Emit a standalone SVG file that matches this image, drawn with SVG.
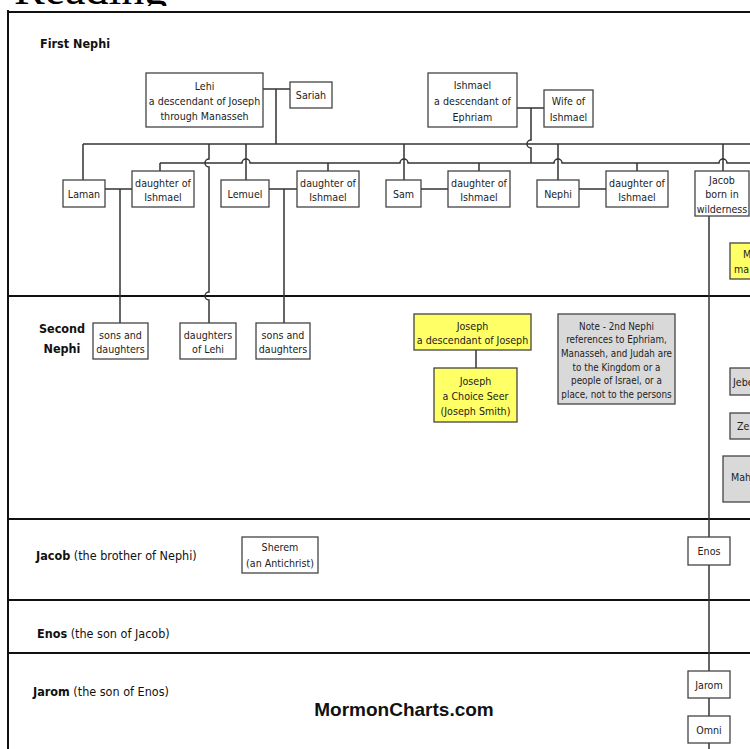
<svg xmlns="http://www.w3.org/2000/svg" width="750" height="749" viewBox="0 0 750 749">
<defs>
<clipPath id="topclip"><rect x="0" y="0" width="750" height="6"/></clipPath>
</defs>
<style>
.t{font-family:"DejaVu Sans Condensed","Liberation Sans",sans-serif;font-size:10.6px;fill:#222;text-anchor:middle}
.n{font-size:9.8px}
.lbl{font-family:"DejaVu Sans Condensed","Liberation Sans",sans-serif;font-size:12.5px;fill:#111}
.b{font-weight:bold}
.s{fill:#fff;stroke:#444;stroke-width:1.3}
.y{fill:#ffff66;stroke:#444;stroke-width:1.3}
.g{fill:#d9d9d9;stroke:#444;stroke-width:1.3}
.c{fill:none;stroke:#333;stroke-width:1.5}
.d{fill:none;stroke:#111;stroke-width:2}
.st{font-family:"DejaVu Sans Condensed","Liberation Sans",sans-serif;font-size:10.6px;fill:#222}
</style>
<rect width="750" height="749" fill="#fff"/>
<text x="14" y="4" clip-path="url(#topclip)" font-family="Liberation Serif,serif" font-size="46" fill="#000">Reading</text>
<g id="frame">
<path class="d" d="M8,12 H750 M8,10 V749 M8,296 H750 M8,519 H750 M8,600 H750 M8,653 H750"/>
</g>
<g id="labels">
<text class="lbl b" x="40" y="48">First Nephi</text>
<text class="lbl b" x="62" y="333" text-anchor="middle">Second</text>
<text class="lbl b" x="62" y="353" text-anchor="middle">Nephi</text>
<text class="lbl" x="36" y="560"><tspan class="b">Jacob</tspan> (the brother of Nephi)</text>
<text class="lbl" x="37" y="638"><tspan class="b">Enos</tspan> (the son of Jacob)</text>
<text class="lbl" x="33" y="696"><tspan class="b">Jarom</tspan> (the son of Enos)</text>
<text x="404" y="716" font-family="Liberation Sans,Arial,sans-serif" font-weight="bold" font-size="19" text-anchor="middle" fill="#111">MormonCharts.com</text>
</g>
<g id="connectors">
<path class="c" d="M263,89 H290 M276,89 V144"/>
<path class="c" d="M83,144 H750"/>
<path class="c" d="M83,144 V180 M209,144 V159 a4,4 0 0 0 0,8 V292 a4,4 0 0 0 0,8 V323 M246,144 V180 M404,144 V180 M558,144 V180 M723,144 V171"/>
<path class="c" d="M517,108 H544 M531,108 V140 a4,4 0 0 0 0,8 V163"/>
<path class="c" d="M160,163 H242 a4,4 0 0 1 8,0 H400 a4,4 0 0 1 8,0 H554 a4,4 0 0 1 8,0 H719 a4,4 0 0 1 8,0 H750"/>
<path class="c" d="M160,163 V171 M328,163 V171 M479,163 V171 M637,163 V171"/>
<path class="c" d="M105,189 H132 M120,189 V323 M269,189 H297 M284,189 V323 M421,189 H448 M579,189 H606"/>
<path class="c" d="M476,350 V368"/>
<path class="c" d="M709,216 V749"/>
</g>
<g id="lehi"><rect class="s" x="146" y="73" width="117" height="54"/><text class="t" x="204.5" y="90">Lehi</text><text class="t" x="204.5" y="105">a descendant of Joseph</text><text class="t" x="204.5" y="120">through Manasseh</text></g>
<g id="sariah"><rect class="s" x="290" y="82" width="42" height="26"/><text class="t" x="311" y="99">Sariah</text></g>
<g id="ishmael"><rect class="s" x="428" y="73" width="89" height="54"/><text class="t" x="472.5" y="89">Ishmael</text><text class="t" x="472.5" y="105">a descendant of</text><text class="t" x="472.5" y="121">Ephriam</text></g>
<g id="wife"><rect class="s" x="544" y="90" width="49" height="37"/><text class="t" x="568.5" y="105">Wife of</text><text class="t" x="568.5" y="121">Ishmael</text></g>
<g id="laman"><rect class="s" x="63" y="180" width="42" height="27"/><text class="t" x="84" y="198">Laman</text></g>
<g id="d1"><rect class="s" x="132" y="171" width="62" height="36"/><text class="t" x="163" y="187">daughter of</text><text class="t" x="163" y="201">Ishmael</text></g>
<g id="lemuel"><rect class="s" x="221" y="180" width="48" height="27"/><text class="t" x="245" y="198">Lemuel</text></g>
<g id="d2"><rect class="s" x="297" y="171" width="62" height="36"/><text class="t" x="328" y="187">daughter of</text><text class="t" x="328" y="201">Ishmael</text></g>
<g id="sam"><rect class="s" x="386" y="180" width="35" height="27"/><text class="t" x="403.5" y="198">Sam</text></g>
<g id="d3"><rect class="s" x="448" y="171" width="62" height="36"/><text class="t" x="479" y="187">daughter of</text><text class="t" x="479" y="201">Ishmael</text></g>
<g id="nephi"><rect class="s" x="537" y="180" width="42" height="27"/><text class="t" x="558" y="198">Nephi</text></g>
<g id="d4"><rect class="s" x="606" y="171" width="62" height="36"/><text class="t" x="637" y="187">daughter of</text><text class="t" x="637" y="201">Ishmael</text></g>
<g id="jacob"><rect class="s" x="695" y="171" width="54" height="45"/><text class="t" x="722" y="184">Jacob</text><text class="t" x="722" y="198">born in</text><text class="t" x="722" y="213">wilderness</text></g>
<g id="m"><rect class="y" x="730" y="243" width="30" height="36"/><text class="st" x="743" y="258">M</text><text class="st" x="734" y="273">ma</text></g>
<g id="sd1"><rect class="s" x="93" y="323" width="55" height="36"/><text class="t" x="120.5" y="339">sons and</text><text class="t" x="120.5" y="353">daughters</text></g>
<g id="dl"><rect class="s" x="180" y="323" width="56" height="36"/><text class="t" x="208" y="339">daughters</text><text class="t" x="208" y="353">of Lehi</text></g>
<g id="sd2"><rect class="s" x="256" y="323" width="54" height="36"/><text class="t" x="283" y="339">sons and</text><text class="t" x="283" y="353">daughters</text></g>
<g id="joseph"><rect class="y" x="414" y="314" width="117" height="36"/><text class="t" x="472.5" y="330">Joseph</text><text class="t" x="472.5" y="344">a descendant of Joseph</text></g>
<g id="seer"><rect class="y" x="434" y="368" width="83" height="54"/><text class="t" x="475.5" y="385">Joseph</text><text class="t" x="475.5" y="400">a Choice Seer</text><text class="t" x="475.5" y="415">(Joseph Smith)</text></g>
<g id="note"><rect class="g" x="558" y="314" width="117" height="90"/>
<text class="t n" x="616.5" y="330">Note - 2nd Nephi</text><text class="t n" x="616.5" y="343">references to Ephriam,</text><text class="t n" x="616.5" y="357">Manasseh, and Judah are</text><text class="t n" x="616.5" y="371">to the Kingdom or a</text><text class="t n" x="616.5" y="384">people of Israel, or a</text><text class="t n" x="616.5" y="398">place, not to the persons</text></g>
<g id="jebe"><rect class="g" x="730" y="368" width="30" height="27"/><text class="st" x="733" y="386">Jebe</text></g>
<g id="ze"><rect class="g" x="730" y="413" width="30" height="26"/><text class="st" x="737" y="430">Ze</text></g>
<g id="mah"><rect class="g" x="723" y="456" width="37" height="46"/><text class="st" x="731" y="481">Mah</text></g>
<g id="sherem"><rect class="s" x="242" y="537" width="76" height="36"/><text class="t" x="280" y="551">Sherem</text><text class="t" x="280" y="567">(an Antichrist)</text></g>
<g id="enos"><rect class="s" x="688" y="537" width="42" height="28"/><text class="t" x="709" y="555">Enos</text></g>
<g id="jarom"><rect class="s" x="688" y="671" width="42" height="27"/><text class="t" x="709" y="689">Jarom</text></g>
<g id="omni"><rect class="s" x="688" y="716" width="42" height="27"/><text class="t" x="709" y="734">Omni</text></g>
</svg>
